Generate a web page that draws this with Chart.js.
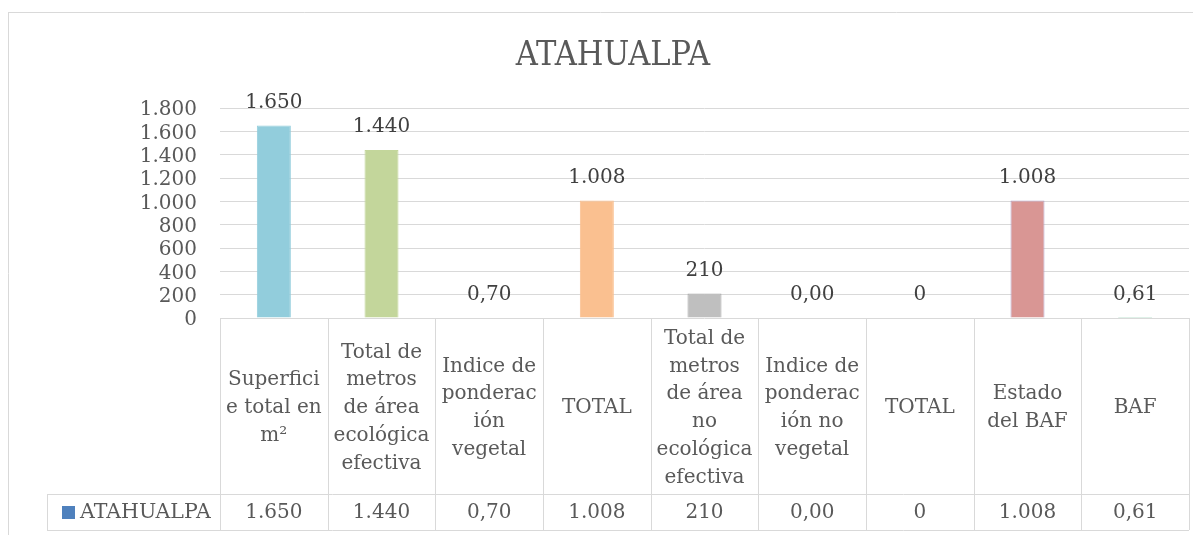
<!DOCTYPE html>
<html>
<head>
<meta charset="utf-8">
<title>ATAHUALPA</title>
<style>
  html, body { margin: 0; padding: 0; background: #ffffff; }
  #wrap { position: relative; width: 1203px; height: 535px; }
</style>
<script src="https://cdn.jsdelivr.net/npm/chart.js@4/dist/chart.umd.min.js"></script>
</head>
<body>
<div id="wrap"><canvas id="chart" width="1203" height="535"></canvas></div>
<script>
// ---- data ----
const chartTitle = 'ATAHUALPA';
const seriesName = 'ATAHUALPA';
const categories = [
  ['Superfici', 'e total en', 'm²'],
  ['Total de', 'metros', 'de área', 'ecológica', 'efectiva'],
  ['Indice de', 'ponderac', 'ión', 'vegetal'],
  ['TOTAL'],
  ['Total de', 'metros', 'de área', 'no', 'ecológica', 'efectiva'],
  ['Indice de', 'ponderac', 'ión no', 'vegetal'],
  ['TOTAL'],
  ['Estado', 'del BAF'],
  ['BAF']
];
const values   = [1650, 1440, 0.70, 1008, 210, 0, 0, 1008, 0.61];
const decimals = [0, 0, 2, 0, 0, 2, 0, 0, 2];
const yMin = 0, yMax = 1800, yStep = 200;

// ---- styling ----
const barFill   = ['#92CDDC', '#C3D69B', 'rgba(0,0,0,0)', '#FAC090', '#BFBFBF', 'rgba(0,0,0,0)', 'rgba(0,0,0,0)', '#D99694', '#7CC4A0'];
const barBorder = ['#92CDDC', '#C3D69B', 'rgba(0,0,0,0)', '#FAC090', '#A6A6A6', 'rgba(0,0,0,0)', 'rgba(0,0,0,0)', '#B3A2C7', '#7CC4A0'];
const FONT = '"DejaVu Serif", serif';
const TITLE_FONT = '"DejaVu Serif Condensed", "DejaVu Serif", serif';
const TEXT = '#595959';
const LABEL = '#404040';
const LINE = '#D9D9D9';

// Spanish number format: "." thousands, "," decimals
function fmt(v, d) {
  const parts = Number(v).toFixed(d).split('.');
  const intPart = parts[0].replace(/\B(?=(\d{3})+(?!\d))/g, '.');
  return parts.length > 1 ? intPart + ',' + parts[1] : intPart;
}

const crisp = v => Math.round(v) + 0.5;

// Frame, title, value labels and the data table under the plot
const decorations = {
  id: 'decorations',
  afterDraw(chart) {
    const ctx = chart.ctx;
    const area = chart.chartArea;
    const x = chart.scales.x;
    const y = chart.scales.y;
    const n = categories.length;
    const cw = (area.right - area.left) / n;

    ctx.save();

    // outer frame (top and left edges)
    ctx.strokeStyle = LINE;
    ctx.lineWidth = 1;
    ctx.beginPath();
    ctx.moveTo(8, 12.5); ctx.lineTo(1193, 12.5);
    ctx.moveTo(8.5, 12); ctx.lineTo(8.5, 535);
    ctx.stroke();

    // title
    ctx.fillStyle = TEXT;
    ctx.font = '34px ' + TITLE_FONT;
    ctx.textAlign = 'center';
    ctx.textBaseline = 'middle';
    ctx.fillText(chartTitle, 613, 56);

    // value labels above each bar
    ctx.fillStyle = LABEL;
    ctx.font = '20px ' + FONT;
    values.forEach((v, i) => {
      ctx.fillText(fmt(v, decimals[i]), x.getPixelForValue(i), y.getPixelForValue(v) - 23);
    });

    // data table grid
    const top = area.bottom;
    const rowTop = 494, rowBottom = 530, legendLeft = 47;
    ctx.strokeStyle = LINE;
    ctx.beginPath();
    for (let i = 0; i <= n; i++) {
      const xx = crisp(area.left + i * cw);
      ctx.moveTo(xx, top); ctx.lineTo(xx, rowBottom);
    }
    ctx.moveTo(crisp(legendLeft), rowTop); ctx.lineTo(crisp(legendLeft), rowBottom);
    ctx.moveTo(legendLeft, crisp(rowTop)); ctx.lineTo(area.right, crisp(rowTop));
    ctx.moveTo(legendLeft, crisp(rowBottom)); ctx.lineTo(area.right, crisp(rowBottom));
    ctx.stroke();

    // category headers
    ctx.fillStyle = TEXT;
    ctx.font = '20px ' + FONT;
    const lh = 27.8;
    const midHeader = (top + rowTop) / 2 + 2;
    categories.forEach((lines, i) => {
      const cx = x.getPixelForValue(i);
      const y0 = midHeader - (lines.length - 1) * lh / 2;
      lines.forEach((t, k) => ctx.fillText(t, cx, y0 + k * lh));
    });

    // values row
    const midRow = (rowTop + rowBottom) / 2 + 1;
    values.forEach((v, i) => {
      ctx.fillText(fmt(v, decimals[i]), x.getPixelForValue(i), midRow);
    });

    // series key
    ctx.fillStyle = '#4F81BD';
    ctx.fillRect(62, 506, 13, 13);
    ctx.fillStyle = TEXT;
    ctx.textAlign = 'left';
    ctx.font = '20.5px ' + FONT;
    ctx.fillText(seriesName, 80, midRow);

    ctx.restore();
  }
};

new Chart(document.getElementById('chart'), {
  type: 'bar',
  data: {
    labels: categories,
    datasets: [{
      label: seriesName,
      data: values,
      backgroundColor: barFill,
      borderColor: barBorder,
      borderWidth: 1,
      borderSkipped: 'start',
      minBarLength: 1,
      categoryPercentage: 1,
      barPercentage: 0.316
    }]
  },
  options: {
    responsive: false,
    animation: false,
    devicePixelRatio: 1,
    layout: { padding: { left: 0, right: 14, top: 108, bottom: 217 } },
    plugins: {
      legend: { display: false },
      title: { display: false },
      tooltip: { enabled: false }
    },
    scales: {
      x: { display: false, offset: true },
      y: {
        min: yMin,
        max: yMax,
        border: { display: false },
        grid: { color: LINE, lineWidth: 1, drawTicks: false },
        ticks: {
          stepSize: yStep,
          autoSkip: false,
          padding: 23,
          labelOffset: 2,
          color: TEXT,
          font: { family: FONT, size: 20 },
          callback: v => fmt(v, 0)
        },
        afterFit(scale) { scale.width = 220; }
      }
    }
  },
  plugins: [decorations]
});
</script>
</body>
</html>
